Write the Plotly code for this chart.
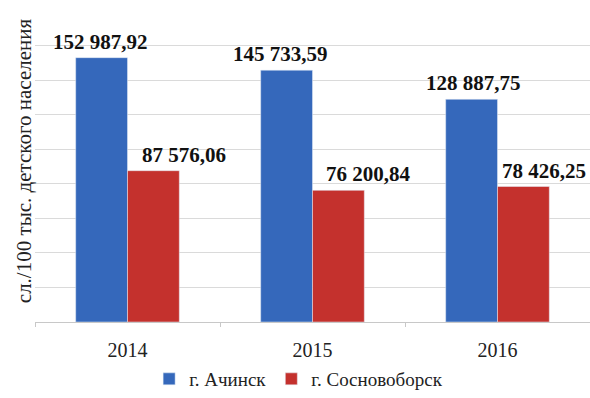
import plotly.graph_objects as go

# Data
years = ["2014", "2015", "2016"]
achinsk = [152987.92, 145733.59, 128887.75]
sosnovoborsk = [87576.06, 76200.84, 78426.25]
series_names = ["г. Ачинск", "г. Сосновоборск"]
y_title = "сл./100 тыс. детского населения"

BLUE = "#3568bb"
RED = "#c4312d"
SERIF = "Times New Roman, Liberation Serif, serif"


def fmt(v):
    whole, frac = f"{v:,.2f}".split(".")
    return whole.replace(",", " ") + "," + frac


pos = list(range(len(years)))

fig = go.Figure()
fig.add_trace(go.Bar(x=pos, y=achinsk, name=series_names[0], marker_color=BLUE))
fig.add_trace(go.Bar(x=pos, y=sosnovoborsk, name=series_names[1], marker_color=RED))

# value labels above the bars, nudged horizontally
blue_shift = [-27, -32, -24]
red_shift = [56, 56, 46]
for i in pos:
    fig.add_annotation(x=i, y=achinsk[i], text="<b>" + fmt(achinsk[i]) + "</b>",
                       showarrow=False, xanchor="center", yanchor="bottom",
                       xshift=blue_shift[i], yshift=2,
                       font=dict(family=SERIF, size=21, color="#111111"))
    fig.add_annotation(x=i, y=sosnovoborsk[i], text="<b>" + fmt(sosnovoborsk[i]) + "</b>",
                       showarrow=False, xanchor="center", yanchor="bottom",
                       xshift=red_shift[i], yshift=2,
                       font=dict(family=SERIF, size=21, color="#111111"))

# rotated y-axis title
fig.add_annotation(x=-0.02, y=0.52, xref="paper", yref="paper",
                   text=y_title, textangle=-90, showarrow=False,
                   xanchor="center", yanchor="middle",
                   font=dict(family=SERIF, size=21, color="#222222"))

fig.update_layout(
    width=590, height=398,
    margin=dict(l=35, r=0, t=11, b=72),
    paper_bgcolor="white", plot_bgcolor="white",
    barmode="group", bargap=0.44, bargroupgap=0,
    showlegend=True,
    legend=dict(orientation="h", x=0.475, xanchor="center", y=-0.185, yanchor="middle",
                font=dict(family=SERIF, size=19, color="#222222"),
                itemwidth=30),
    font=dict(family=SERIF, color="#222222"),
)
fig.update_xaxes(range=[-0.5, 2.5], tickvals=pos, ticktext=years,
                 showline=True, linecolor="#c8c8c8", linewidth=1,
                 ticks="", ticklabelstandoff=10,
                 tickfont=dict(family=SERIF, size=20, color="#222222"),
                 minor=dict(tickvals=[-0.5, 0.5, 1.5, 2.5], ticks="outside",
                            ticklen=4, tickcolor="#c8c8c8", showgrid=False),
                 showgrid=False, zeroline=False)
fig.update_yaxes(range=[0, 180000], dtick=20000, showticklabels=False,
                 showgrid=True, gridcolor="#dadada", gridwidth=1,
                 zeroline=False, showline=False)

fig.write_html("out.html")
